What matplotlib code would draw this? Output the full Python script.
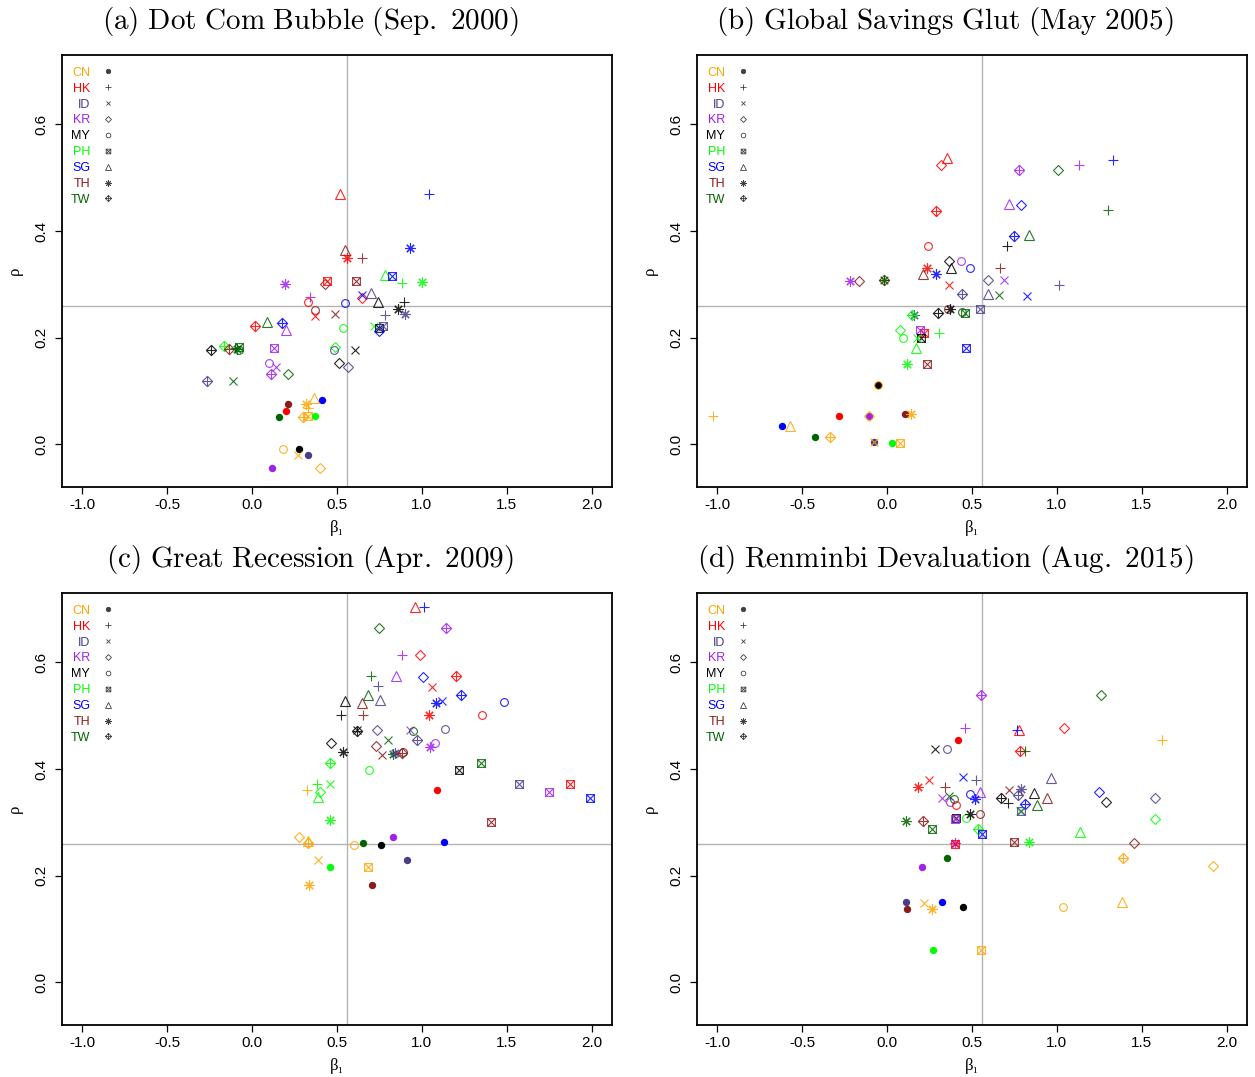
import matplotlib
matplotlib.use("Agg")
import matplotlib.pyplot as plt
from matplotlib.lines import Line2D
from matplotlib.path import Path

COUNTRIES = ["CN", "HK", "ID", "KR", "MY", "PH", "SG", "TH", "TW"]
COLORS = {
    "CN": "#FFA500", "HK": "#FF0000", "ID": "#483D8B", "KR": "#A020F0",
    "MY": "#000000", "PH": "#00FF00", "SG": "#0000FF", "TH": "#8B1A1A",
    "TW": "#006400",
}

TITLES = [
    r"$\mathrm{(a)\ Dot\ Com\ Bubble\ (Sep.\ 2000)}$",
    r"$\mathrm{(b)\ Global\ Savings\ Glut\ (May\ 2005)}$",
    r"$\mathrm{(c)\ Great\ Recession\ (Apr.\ 2009)}$",
    r"$\mathrm{(d)\ Renminbi\ Devaluation\ (Aug.\ 2015)}$",
]
BETA_REF = 0.56
RHO_REF = 0.26
X_TICKS = [-1.0, -0.5, 0.0, 0.5, 1.0, 1.5, 2.0]
Y_TICKS = [0.0, 0.2, 0.4, 0.6]

# pair = "source-target": colour from source, marker from target
PAIRS_A = ["HK-SG", "SG-HK", "TH-SG", "HK-TH", "TH-HK", "SG-TH", "PH-SG", "SG-PH", "PH-HK",
           "PH-TH", "KR-TH", "TH-KR", "HK-PH", "TH-PH", "KR-HK", "HK-MY", "SG-MY", "HK-KR",
           "SG-ID", "ID-SG", "MY-SG", "MY-HK", "TH-MY", "HK-ID", "TH-ID", "MY-TH", "ID-TH",
           "ID-HK", "PH-ID", "MY-PH", "ID-PH", "SG-KR", "HK-TW", "TW-SG", "SG-TW", "KR-SG",
           "PH-MY", "MY-TW", "PH-TW", "TH-TW", "TW-MY", "TW-PH", "TW-HK", "TW-TH", "KR-PH",
           "PH-KR", "ID-MY", "MY-ID", "KR-MY", "KR-ID", "KR-TW", "TW-KR", "MY-KR", "ID-KR",
           "ID-TW", "TW-ID", "CN-SG", "SG-CN", "CN-TH", "TH-CN", "HK-CN", "TW-CN", "CN-TW",
           "CN-PH", "PH-CN", "CN-HK", "CN-MY", "MY-CN", "CN-ID", "ID-CN", "KR-CN", "CN-KR"]
BETA_A = [0.52, 1.04, 0.55, 0.56, 0.645, 0.93, 0.78, 0.825, 0.88,
          1.0, 0.194, 0.43, 0.44, 0.61, 0.34, 0.33, 0.547, 0.645,
          0.65, 0.70, 0.74, 0.896, 0.37, 0.37, 0.49, 0.857, 0.90,
          0.78, 0.72, 0.75, 0.77, 0.75, 0.014, 0.086, 0.175, 0.20,
          0.533, -0.241, -0.163, -0.134, -0.08, -0.076, -0.10, -0.09, 0.13,
          0.49, 0.485, 0.606, 0.098, 0.14, 0.112, 0.21, 0.51, 0.567,
          -0.265, -0.114, 0.367, 0.41, 0.318, 0.21, 0.20, 0.16, 0.30,
          0.33, 0.37, 0.33, 0.18, 0.275, 0.272, 0.33, 0.12, 0.40]
RHO_A = [0.47, 0.47, 0.365, 0.35, 0.35, 0.368, 0.318, 0.316, 0.303,
         0.305, 0.30, 0.30, 0.306, 0.307, 0.277, 0.267, 0.265, 0.275,
         0.28, 0.283, 0.266, 0.267, 0.252, 0.241, 0.244, 0.254, 0.244,
         0.242, 0.222, 0.218, 0.222, 0.212, 0.221, 0.229, 0.227, 0.214,
         0.218, 0.176, 0.185, 0.178, 0.176, 0.183, 0.18, 0.178, 0.18,
         0.182, 0.177, 0.177, 0.153, 0.145, 0.131, 0.132, 0.153, 0.145,
         0.118, 0.118, 0.087, 0.084, 0.075, 0.075, 0.062, 0.052, 0.052,
         0.054, 0.053, 0.068, -0.009, -0.009, -0.02, -0.02, -0.045, -0.045]

PAIRS_B = ["HK-KR", "HK-SG", "HK-TW", "HK-MY", "HK-TH", "HK-ID", "HK-PH", "HK-CN",
           "TH-SG", "TH-KR", "TH-TW", "TH-HK", "TH-MY", "TH-PH", "TH-CN",
           "SG-TH", "SG-HK", "SG-KR", "SG-TW", "SG-MY", "SG-ID", "SG-PH", "SG-CN",
           "KR-TH", "KR-TW", "KR-HK", "KR-SG", "KR-MY", "KR-ID", "KR-PH", "KR-CN",
           "TW-TH", "TW-KR", "TW-HK", "TW-SG", "TW-ID", "TW-MY", "TW-PH", "TW-CN",
           "MY-HK", "MY-KR", "MY-SG", "MY-TW", "MY-TH", "MY-PH", "MY-CN",
           "ID-KR", "ID-HK", "ID-TW", "ID-SG", "ID-PH", "ID-TH", "ID-CN",
           "PH-TW", "PH-KR", "PH-MY", "PH-ID", "PH-HK", "PH-SG", "PH-TH", "PH-CN",
           "CN-MY", "CN-HK", "CN-KR", "CN-TH", "CN-SG", "CN-TW", "CN-ID", "CN-PH"]
BETA_B = [0.32, 0.352, 0.29, 0.242, 0.234, 0.366, 0.22, -0.283,
          0.21, -0.167, -0.016, 0.663, 0.36, 0.234, 0.106,
          0.287, 1.33, 0.789, 0.749, 0.486, 0.822, 0.466, -0.618,
          -0.218, 0.779, 1.133, 0.72, 0.435, 0.686, 0.195, -0.106,
          -0.02, 1.005, 1.30, 0.838, 0.657, 0.44, 0.46, -0.423,
          0.706, 0.366, 0.378, 0.297, 0.372, 0.199, -0.055,
          0.592, 1.01, 0.444, 0.592, 0.549, 0.16, -0.075,
          0.146, 0.077, 0.093, 0.175, 0.303, 0.171, 0.12, 0.03,
          -0.055, -1.025, -0.106, 0.14, -0.572, -0.336, -0.075, 0.077]
RHO_B = [0.523, 0.536, 0.437, 0.371, 0.331, 0.298, 0.209, 0.054,
         0.319, 0.307, 0.308, 0.331, 0.253, 0.151, 0.056,
         0.319, 0.534, 0.449, 0.39, 0.33, 0.278, 0.18, 0.034,
         0.307, 0.514, 0.523, 0.45, 0.343, 0.308, 0.214, 0.053,
         0.308, 0.514, 0.439, 0.392, 0.28, 0.249, 0.247, 0.013,
         0.372, 0.344, 0.33, 0.246, 0.253, 0.199, 0.112,
         0.308, 0.298, 0.281, 0.281, 0.253, 0.243, 0.004,
         0.243, 0.214, 0.199, 0.199, 0.209, 0.181, 0.151, 0.002,
         0.112, 0.054, 0.053, 0.056, 0.034, 0.013, 0.004, 0.002]

PAIRS_C = ["HK-SG", "SG-HK", "TW-KR", "KR-TW", "KR-HK", "HK-KR", "TW-HK", "KR-SG", "SG-KR",
           "HK-TW", "HK-ID", "ID-HK", "TW-SG", "ID-SG", "MY-SG", "TH-SG", "MY-HK", "TH-HK",
           "SG-TW", "SG-TH", "SG-ID", "HK-TH", "MY-TW", "MY-ID", "ID-KR", "TW-ID", "KR-ID",
           "TW-MY", "ID-MY", "ID-TW", "MY-KR", "TH-KR", "KR-TH", "KR-MY", "SG-MY", "HK-MY",
           "MY-TH", "TH-ID", "TW-TH", "ID-TH", "TH-TW", "TH-MY", "PH-TW", "PH-MY", "MY-PH",
           "TW-PH", "HK-CN", "PH-HK", "PH-ID", "CN-HK", "PH-KR", "PH-SG", "PH-TH", "CN-KR",
           "CN-TW", "CN-SG", "CN-MY", "TW-CN", "MY-CN", "KR-CN", "SG-CN", "CN-ID", "PH-CN",
           "ID-CN", "CN-PH", "CN-TH", "TH-CN", "ID-PH", "KR-PH", "HK-PH", "SG-PH", "TH-PH"]
BETA_C = [0.96, 1.014, 0.75, 1.145, 0.882, 0.986, 0.70, 0.85, 1.004,
          1.2, 1.057, 0.743, 0.68, 0.755, 0.549, 0.647, 0.524, 0.655,
          1.23, 1.086, 1.12, 1.043, 0.618, 0.62, 0.735, 0.80, 0.93,
          0.945, 1.135, 0.97, 0.465, 0.73, 1.047, 1.08, 1.484, 1.353,
          0.537, 0.763, 0.83, 0.84, 0.88, 0.89, 0.46, 0.69, 1.22,
          1.347, 1.088, 0.38, 0.46, 0.324, 0.40, 0.39, 0.46, 0.278,
          0.327, 0.33, 0.598, 0.651, 0.759, 0.83, 1.131, 0.39, 0.457,
          0.914, 0.684, 0.337, 0.706, 1.57, 1.747, 1.87, 1.99, 1.406]
RHO_C = [0.704, 0.703, 0.665, 0.665, 0.613, 0.613, 0.575, 0.574, 0.573,
         0.575, 0.554, 0.555, 0.539, 0.53, 0.527, 0.524, 0.502, 0.502,
         0.538, 0.523, 0.527, 0.502, 0.471, 0.474, 0.474, 0.455, 0.473,
         0.471, 0.475, 0.455, 0.449, 0.444, 0.441, 0.448, 0.526, 0.502,
         0.432, 0.426, 0.429, 0.43, 0.43, 0.432, 0.412, 0.398, 0.399,
         0.412, 0.36, 0.371, 0.371, 0.36, 0.357, 0.348, 0.305, 0.273,
         0.262, 0.265, 0.257, 0.262, 0.257, 0.273, 0.264, 0.229, 0.216,
         0.23, 0.216, 0.183, 0.183, 0.372, 0.357, 0.372, 0.346, 0.301]

PAIRS_D = ["KR-TW", "KR-HK", "HK-CN", "MY-ID", "ID-MY", "HK-SG", "SG-HK", "HK-TW", "TW-HK",
           "HK-KR", "TW-KR", "CN-HK", "SG-ID", "ID-HK", "HK-ID", "HK-TH", "TH-HK", "ID-SG",
           "KR-ID", "TW-ID", "KR-MY", "TW-MY", "HK-MY", "SG-MY", "KR-SG", "SG-TH", "TH-ID",
           "ID-TH", "ID-TW", "MY-SG", "TH-SG", "MY-TW", "MY-HK", "SG-TW", "TW-SG", "PH-ID",
           "ID-PH", "MY-PH", "KR-PH", "PH-MY", "MY-TH", "TH-MY", "TW-TH", "TH-TW", "SG-KR",
           "MY-KR", "ID-KR", "PH-KR", "PH-SG", "TW-PH", "KR-TH", "HK-PH", "PH-TW", "SG-PH",
           "TH-PH", "PH-TH", "TW-CN", "KR-CN", "ID-CN", "TH-CN", "CN-ID", "CN-TH", "SG-CN",
           "MY-CN", "CN-MY", "PH-CN", "CN-PH", "CN-SG", "CN-TW", "CN-KR", "TH-KR"]
BETA_D = [0.555, 0.456, 0.415, 0.283, 0.352, 0.775, 0.765, 0.785, 0.81,
          1.04, 1.257, 1.622, 0.447, 0.523, 0.244, 0.179, 0.342, 0.967,
          0.323, 0.366, 0.372, 0.395, 0.405, 0.486, 0.545, 0.515, 0.716,
          0.789, 0.769, 0.863, 0.942, 0.673, 0.712, 0.814, 0.883, 0.78,
          0.79, 0.405, 0.40, 0.466, 0.486, 0.549, 0.11, 0.21, 1.25,
          1.29, 1.58, 1.577, 1.134, 0.264, 0.397, 0.40, 0.533, 0.559,
          0.75, 0.838, 0.352, 0.206, 0.11, 0.118, 0.218, 0.267, 0.323,
          0.447, 1.034, 0.27, 0.555, 1.386, 1.392, 1.917, 1.457]
RHO_D = [0.538, 0.477, 0.454, 0.438, 0.438, 0.473, 0.473, 0.434, 0.434,
         0.477, 0.538, 0.454, 0.385, 0.38, 0.38, 0.366, 0.367, 0.384,
         0.346, 0.349, 0.338, 0.344, 0.333, 0.353, 0.357, 0.344, 0.361,
         0.363, 0.351, 0.355, 0.346, 0.346, 0.336, 0.334, 0.333, 0.321,
         0.322, 0.309, 0.306, 0.309, 0.315, 0.315, 0.303, 0.303, 0.356,
         0.338, 0.346, 0.306, 0.282, 0.288, 0.262, 0.26, 0.288, 0.279,
         0.264, 0.263, 0.233, 0.217, 0.15, 0.138, 0.149, 0.138, 0.15,
         0.142, 0.142, 0.06, 0.06, 0.151, 0.234, 0.219, 0.262]

PANELS = [(PAIRS_A, BETA_A, RHO_A), (PAIRS_B, BETA_B, RHO_B),
          (PAIRS_C, BETA_C, RHO_C), (PAIRS_D, BETA_D, RHO_D)]

# square with an x inside (R pch 7) and diamond with a plus (R pch 9)
SQUARE_X = Path(
    [(-1, -1), (1, -1), (1, 1), (-1, 1), (-1, -1), (-1, -1), (1, 1), (-1, 1), (1, -1)],
    [Path.MOVETO, Path.LINETO, Path.LINETO, Path.LINETO, Path.CLOSEPOLY,
     Path.MOVETO, Path.LINETO, Path.MOVETO, Path.LINETO])
DIAMOND_PLUS = Path(
    [(0, -1), (1, 0), (0, 1), (-1, 0), (0, -1), (-1, 0), (1, 0), (0, -1), (0, 1)],
    [Path.MOVETO, Path.LINETO, Path.LINETO, Path.LINETO, Path.CLOSEPOLY,
     Path.MOVETO, Path.LINETO, Path.MOVETO, Path.LINETO])

MARKERS = {"CN": "o", "HK": "+", "ID": "x", "KR": "D", "MY": "o",
           "PH": SQUARE_X, "SG": "^", "TH": (8, 2, 0), "TW": DIAMOND_PLUS}
SIZES = {"CN": 5.3, "HK": 7.5, "ID": 5.8, "KR": 5.0, "MY": 5.6,
         "PH": 5.6, "SG": 7.2, "TH": 7.4, "TW": 7.4}

plt.rcParams.update({
    "mathtext.fontset": "cm",
    "font.family": ["Liberation Sans", "DejaVu Sans"],
})

fig = plt.figure(figsize=(12.55, 10.77), dpi=100)
W, H = 1255.0, 1077.0
boxes = [(62, 55), (697, 55), (62, 593), (697, 593)]

for (px, py), title, (pairs, beta, rho) in zip(boxes, TITLES, PANELS):
    ax = fig.add_axes([px / W, 1 - (py + 432) / H, 550 / W, 432 / H])
    ax.axvline(BETA_REF, color="#b4b4b4", lw=1.0, zorder=1)
    ax.axhline(RHO_REF, color="#b4b4b4", lw=1.0, zorder=1)

    for pair, b, r in zip(pairs, beta, rho):
        src, tgt = pair.split("-")
        col = COLORS[src]
        filled = tgt == "CN"
        ax.plot(b, r, ls="none", marker=MARKERS[tgt], ms=SIZES[tgt],
                mfc=col if filled else "none", mec=col,
                mew=0.0 if filled else 0.8, alpha=1.0 if filled else 0.85,
                zorder=3)

    ax.set_xlim(-1.12, 2.12)
    ax.set_ylim(-0.08, 0.73)
    ax.set_xticks(X_TICKS)
    ax.set_xticklabels([f"{t:.1f}" for t in X_TICKS])
    ax.set_yticks(Y_TICKS)
    ax.set_yticklabels([f"{t:.1f}" for t in Y_TICKS], rotation=90, va="center")
    ax.tick_params(direction="out", length=5, width=0.9, labelsize=11)
    ax.tick_params(axis="x", pad=3)
    ax.tick_params(axis="y", pad=5)
    for sp in ax.spines.values():
        sp.set_linewidth(1.3)

    ax.set_xlabel("β₁", family=["Liberation Serif", "DejaVu Serif"], fontsize=12, labelpad=6)
    ax.set_ylabel("ρ", family=["Liberation Serif", "DejaVu Serif"], fontsize=12, labelpad=8)
    ax.set_title(title, fontsize=21, x=0.451, pad=19)

    handles = [Line2D([], [], ls="none", marker=MARKERS[c], ms=SIZES[c] * 0.6,
                      mfc="0.25" if c == "CN" else "none", mec="0.25", mew=0.6)
               for c in COUNTRIES]
    leg = ax.legend(handles, COUNTRIES, loc="upper left", frameon=False,
                    markerfirst=False, fontsize=9, handlelength=1.0,
                    handletextpad=0.9, labelspacing=0.31,
                    borderaxespad=0.3, bbox_to_anchor=(0.0, 0.993))
    for txt, c in zip(leg.get_texts(), COUNTRIES):
        txt.set_color(COLORS[c])

fig.savefig("out.png", dpi=100)
